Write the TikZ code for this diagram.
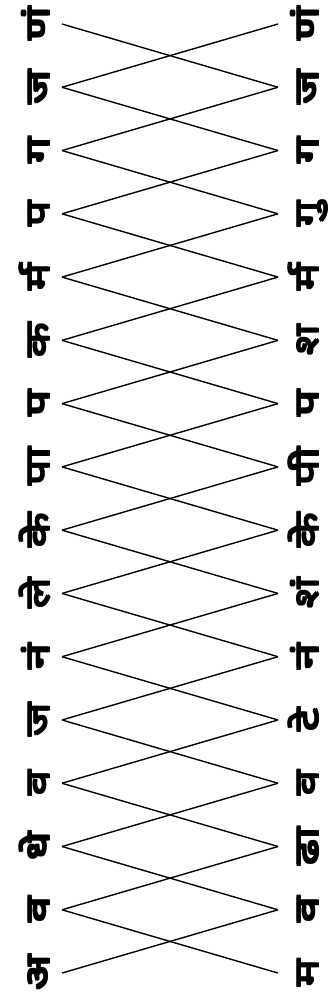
\documentclass[tikz,border=0pt]{standalone}
\usepackage{graphicx}
\usepackage{fontspec}
\newfontfamily\dev[Script=Devanagari]{Noto Sans}
\tikzset{
  glyph/.style={rotate=90,anchor=base,inner sep=0pt,font=\dev\bfseries\fontsize{33}{33}\selectfont},
  link/.style={line width=1.4pt,black}
}
\newcommand\fatglyph[1]{\rlap{#1}\rlap{\raisebox{1.3pt}{#1}}\kern1.1pt\rlap{#1}\raisebox{1.3pt}{#1}}
\newcommand\wide[1]{\scalebox{1.4}[1]{\fatglyph{#1}}}
\begin{document}
\begin{tikzpicture}[x=1pt,y=-1pt]
\useasboundingbox (0,0) rectangle (333,996);
\def\dy{63.27}
\foreach \l/\r [count=\i] in {णं/णं,ज/ज,ग/ग,प/गु,र्म/र्म,क/श,प/प,पा/पी,के/के,ले/शं,नं/नं,ज/टे,व/व,धे/ढा,व/व,अ/म}{
  \pgfmathsetmacro{\yy}{24+(\i-1)*\dy}
  \node[glyph] (gl\i) at (50,\yy) {\wide{\l}};
  \node[glyph] (gr\i) at (319,\yy) {\wide{\r}};
  \coordinate (L\i) at (62,\yy);
  \coordinate (R\i) at (278,\yy);
}
\foreach \i [evaluate=\i as \j using int(\i+1)] in {1,...,15}{
  \draw[link] (L\i) -- (R\j);
  \draw[link] (L\j) -- (R\i);
}
\end{tikzpicture}
\end{document}
